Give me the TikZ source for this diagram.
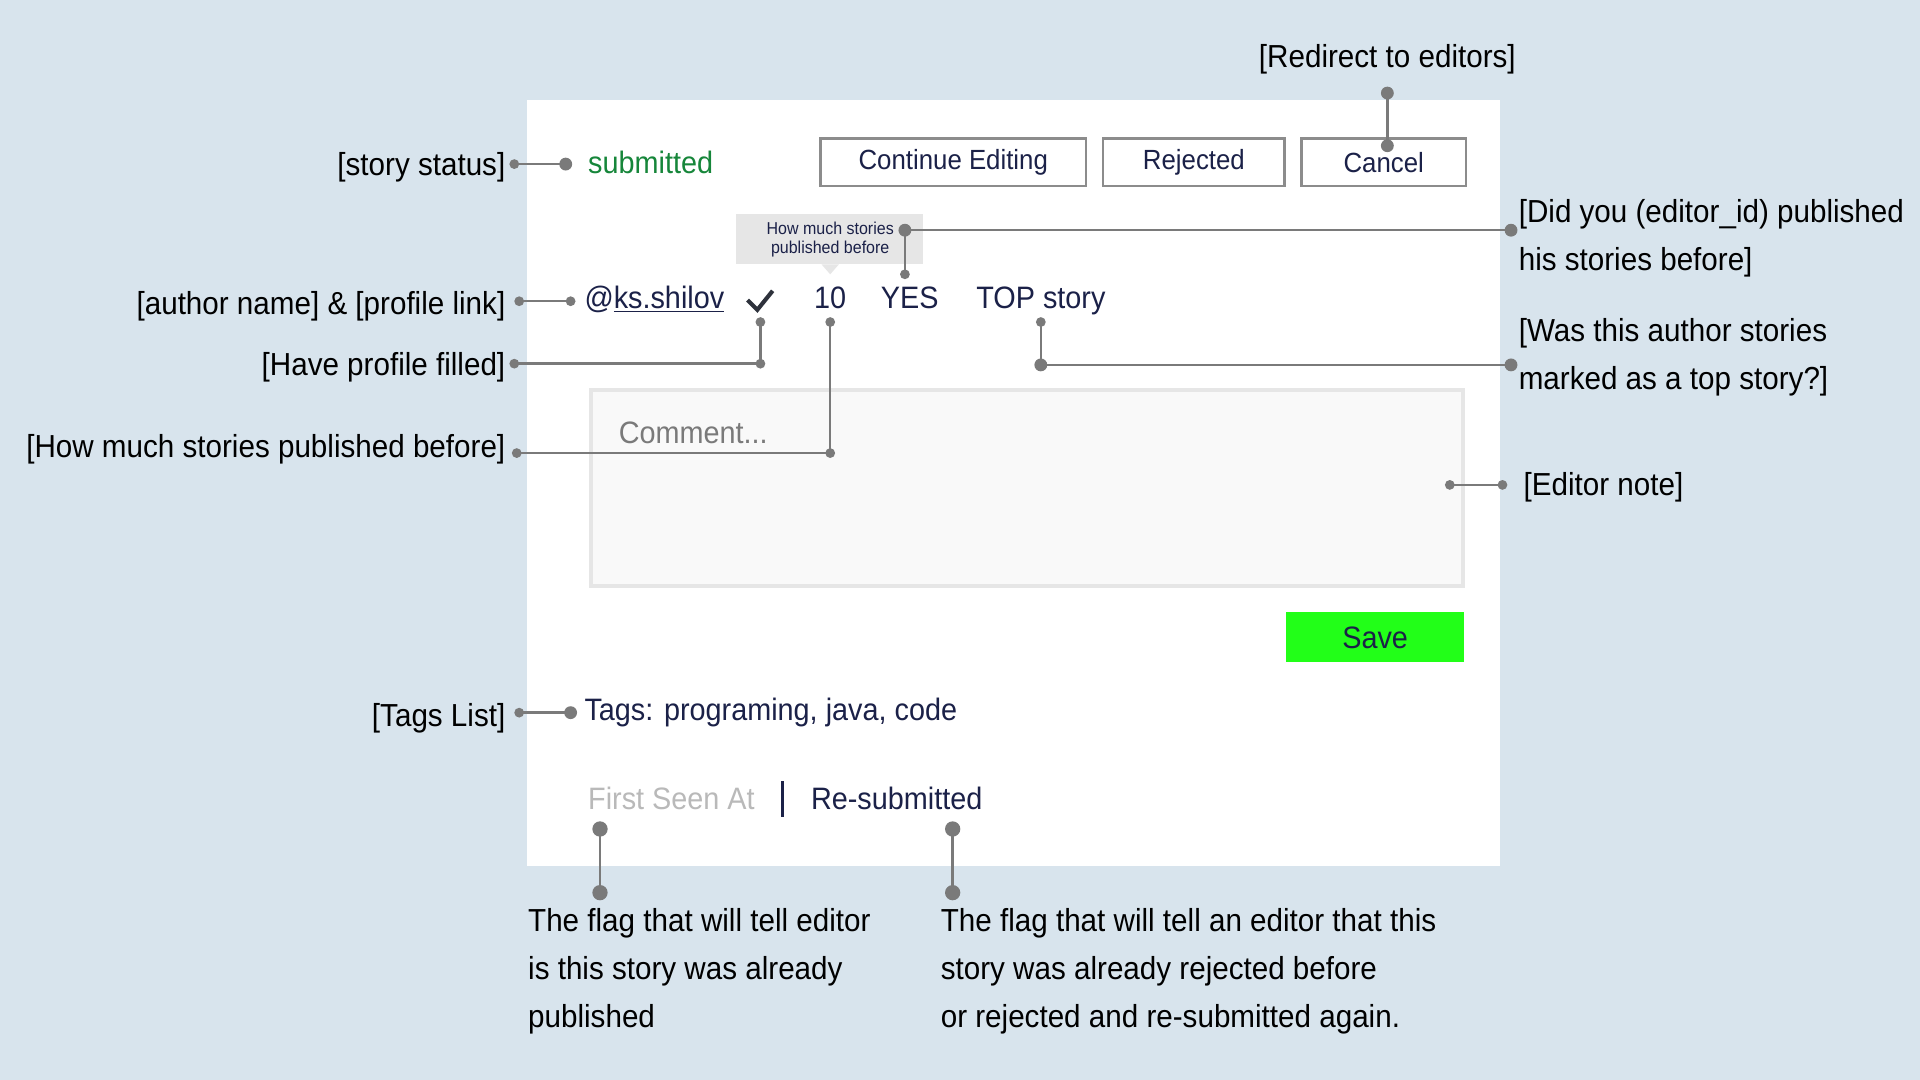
\documentclass[tikz,border=0pt]{standalone}
\usepackage{fontspec}
\setmainfont{Liberation Sans}[FakeStretch=0.93]
\usetikzlibrary{calc}

\definecolor{bgblue}{HTML}{D8E4ED}
\definecolor{uinavy}{HTML}{1B2148}
\definecolor{okgreen}{HTML}{16863A}
\definecolor{savegreen}{HTML}{22FF18}
\definecolor{pingray}{HTML}{7A7A7A}
\definecolor{btngray}{HTML}{8C8C8C}
\definecolor{boxgray}{HTML}{E6E6E6}
\definecolor{checkgray}{HTML}{2E323C}

\tikzset{
  note/.style={font=\fontsize{14.8}{22.2}\selectfont, text=black, inner sep=0pt},
  ui/.style={font=\fontsize{14.4}{21.6}\selectfont, text=uinavy, inner sep=0pt},
  btn/.style={ui, font=\fontsize{12.9}{15}\selectfont, draw=btngray, line width=1.1pt, minimum height=0.78cm},
  pin/.style={circle, fill=pingray, inner sep=0pt, minimum size=0.21cm},
  smallpin/.style={pin, minimum size=0.16cm},
  bigpin/.style={pin, minimum size=0.25cm},
  link/.style={draw=pingray, line width=1.1pt}
}

\begin{document}
\begin{tikzpicture}[x=0.02cm, y=-0.02cm]
  \fill [bgblue] (0,0) rectangle (1568,882);
  \useasboundingbox (0,0) rectangle (1568,882);
  \fill [white] (430,82) rectangle (1225,707);

  % top row
  \node [ui, text=okgreen, anchor=base west] (status) at (480,142) {submitted};
  \node [btn, minimum width=4.34cm] (edit) at (778.5,132.5) {Continue Editing};
  \node [btn, minimum width=2.96cm] (reject) at (975,132.5) {Rejected};
  \node [btn, minimum width=2.68cm] (cancel) at (1130,132.5) {Cancel};

  % tooltip
  \fill [boxgray] (601,175) rectangle (754,216);
  \fill [boxgray] (671,216) -- (685,216) -- (678,224) -- cycle;
  \node [ui, font=\fontsize{8}{8.6}\selectfont, align=center] (tip) at (678,195.5) {How much stories\\published before};

  % author row
  \node [ui, anchor=base west] (author) at (477,252) {@\underline{ks.shilov}};
  \draw [checkgray, line width=1.9pt] (610.5,245) -- (618.5,253) -- (631,237.5);
  \coordinate (check) at (621,245);
  \node [ui, anchor=base] (count) at (678,252) {10};
  \node [ui, anchor=base] (yes) at (743,252) {YES};
  \node [ui, anchor=base west] (topstory) at (797,252) {TOP story};

  % comment and save
  \filldraw [fill=white!97.5!black, draw=boxgray, line width=1.7pt] (482.5,318.5) rectangle (1194.5,478.5);
  \node [ui, text=pingray, anchor=base west] (comment) at (505,362) {Comment...};
  \node [ui, fill=savegreen, minimum width=2.92cm, minimum height=0.82cm] (save) at (1123,520.5) {Save};

  \node [ui, anchor=base west] (tags) at (477,588) {Tags: programing, java, code};
  \node [ui, text=gray!55, anchor=base west] (firstseen) at (480,661) {First Seen At};
  \draw [uinavy, line width=1.1pt] (639,638) -- (639,667);
  \node [ui, anchor=base west] (resub) at (662,661) {Re-submitted};

  % labels
  \node [note, anchor=base east] (lstatus) at (413,143) {[story status]};
  \node [note, anchor=base] (lredirect) at (1133,55) {[Redirect to editors]};
  \node [note, anchor=base west, align=left] (lpublished) at (1240,221) {[Did you (editor\_id) published\\his stories before]};
  \node [note, anchor=base east] (lauthor) at (413,257) {[author name] \& [profile link]};
  \node [note, anchor=base east] (lprofile) at (413,307) {[Have profile filled]};
  \node [note, anchor=base west, align=left] (ltop) at (1240,318) {[Was this author stories\\marked as a top story?]};
  \node [note, anchor=base east] (lcount) at (413,374) {[How much stories published before]};
  \node [note, anchor=base west] (lnote) at (1244,405) {[Editor note]};
  \node [note, anchor=base east] (ltags) at (413,593) {[Tags List]};
  \node [note, anchor=base west, align=left] (lfirst) at (431,839) {The flag that will tell editor\\is this story was already\\published};
  \node [note, anchor=base west, align=left] (lresub) at (768,839) {The flag that will tell an editor that this\\story was already rejected before\\or rejected and re-submitted again.};

  % pins
  \node [smallpin] (p1a) at (420,134) {};  \node [pin] (p1b) at (462,134) {};
  \node [pin] (p2a) at (1133,76) {};       \node [pin] (p2b) at (1133,119) {};
  \node [pin] (p3a) at (739,188) {};       \node [pin] (p3b) at (1234,188) {};
  \node [smallpin] (p3c) at (739,224) {};
  \node [smallpin] (p4a) at (424,246) {};  \node [smallpin] (p4b) at (466,246) {};
  \node [smallpin] (p5a) at (420,297) {};  \node [smallpin] (p5b) at (621,297) {};
  \node [smallpin] (p5c) at (621,263) {};
  \node [smallpin] (p6a) at (850,263) {};  \node [pin] (p6b) at (850,298) {};
  \node [pin] (p6c) at (1234,298) {};
  \node [smallpin] (p7a) at (422,370) {};  \node [smallpin] (p7b) at (678,370) {};
  \node [smallpin] (p7c) at (678,263) {};
  \node [smallpin] (p8a) at (1184,396) {}; \node [smallpin] (p8b) at (1227,396) {};
  \node [smallpin] (p9a) at (424,582) {};  \node [pin] (p9b) at (466,582) {};
  \node [bigpin] (p10a) at (490,677) {};   \node [bigpin] (p10b) at (490,729) {};
  \node [bigpin] (p11a) at (778,677) {};   \node [bigpin] (p11b) at (778,729) {};

  % connectors
  \draw [link] (p1a.center) -- (p1b.center);
  \draw [link] (p2a.center) -- (p2b.center);
  \draw [link] (p3b.center) -- (p3a.center) -- (p3c.center);
  \draw [link] (p4a.center) -- (p4b.center);
  \draw [link] (p5a.center) -- (p5b.center) -- (p5c.center);
  \draw [link] (p6a.center) -- (p6b.center) -- (p6c.center);
  \draw [link] (p7a.center) -- (p7b.center) -- (p7c.center);
  \draw [link] (p8a.center) -- (p8b.center);
  \draw [link] (p9a.center) -- (p9b.center);
  \draw [link] (p10a.center) -- (p10b.center);
  \draw [link] (p11a.center) -- (p11b.center);
\end{tikzpicture}
\end{document}
